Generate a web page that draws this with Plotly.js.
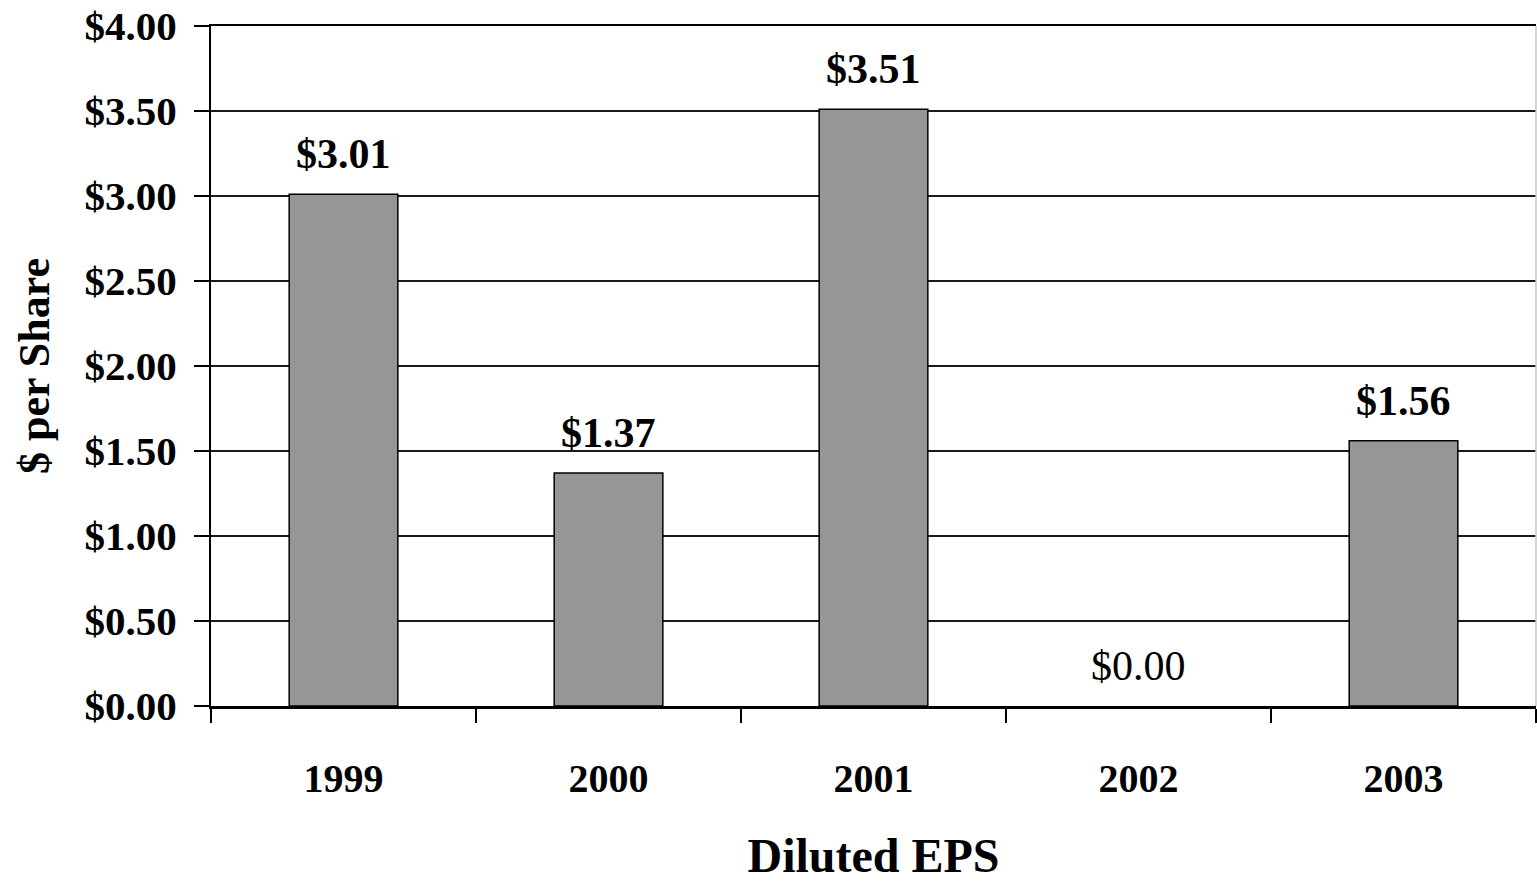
<!DOCTYPE html>
<html>
<head>
<meta charset="utf-8">
<script src="https://cdn.plot.ly/plotly-3.0.1.min.js"></script>
<style>
  html, body { margin: 0; padding: 0; background: #fff; }
  #chart { width: 1537px; height: 882px; }
</style>
</head>
<body>
<div id="chart"></div>
<script>
// Diluted earnings per share by fiscal year
const years = ['1999', '2000', '2001', '2002', '2003'];
const eps = [3.01, 1.37, 3.51, 0.00, 1.56];
const yTickVals = [0, 0.5, 1, 1.5, 2, 2.5, 3, 3.5, 4];
const yTickText = ['$0.00', '$0.50', '$1.00', '$1.50', '$2.00', '$2.50', '$3.00', '$3.50', '$4.00'];

const serif = '"Liberation Serif", "Times New Roman", serif';

const money = v => '$' + v.toFixed(2);

const trace = {
  type: 'bar',
  x: years,
  y: eps,
  width: 0.41,
  marker: {
    color: '#969696',
    // no outline on an empty (zero-height) bar
    line: { color: '#000000', width: eps.map(v => (v === 0 ? 0 : 1.5)) }
  },
  hoverinfo: 'x+y'
};

// value labels above each bar (category position = index on the category axis)
const annotations = years.map((yr, i) => ({
  x: i,
  y: eps[i],
  xref: 'x',
  yref: 'y',
  text: money(eps[i]),
  showarrow: false,
  yanchor: 'bottom',
  yshift: 15,
  font: {
    family: serif,
    size: 42,
    color: '#000',
    weight: eps[i] === 0 ? 'normal' : 'bold'
  }
}));

const layout = {
  width: 1537,
  height: 882,
  margin: { l: 211, r: 1, t: 26, b: 176 },
  paper_bgcolor: '#ffffff',
  plot_bgcolor: '#ffffff',
  showlegend: false,
  font: { family: serif, color: '#000' },
  xaxis: {
    type: 'category',
    range: [-0.5, years.length - 0.5],
    showline: true,
    linecolor: '#000',
    linewidth: 2.5,
    mirror: true,
    ticks: 'outside',
    tickson: 'boundaries',
    ticklen: 14,
    tickwidth: 2,
    tickcolor: '#000',
    showgrid: false,
    tickangle: 0,
    ticklabelstandoff: 35,
    tickfont: { family: serif, size: 40, weight: 'bold', color: '#000' },
    title: {
      text: 'Diluted EPS',
      standoff: 48,
      font: { family: serif, size: 48, weight: 'bold', color: '#000' }
    }
  },
  yaxis: {
    range: [0, 4],
    tickmode: 'array',
    tickvals: yTickVals,
    ticktext: yTickText,
    showline: true,
    linecolor: '#000',
    linewidth: 2,
    ticks: 'outside',
    ticklen: 15,
    tickwidth: 2,
    tickcolor: '#000',
    showgrid: true,
    gridcolor: '#1a1a1a',
    gridwidth: 2,
    zeroline: false,
    ticklabelstandoff: 9,
    tickfont: { family: serif, size: 41, weight: 'bold', color: '#000' },
    title: {
      text: '$ per Share',
      standoff: 21,
      font: { family: serif, size: 44, weight: 'bold', color: '#000' }
    }
  },
  shapes: [{
    type: 'line',
    xref: 'paper', yref: 'paper',
    x0: 1, x1: 1, y0: 0, y1: 1,
    line: { color: '#c8c8c8', width: 1.5 }
  }],
  annotations: annotations
};

Plotly.newPlot('chart', [trace], layout, { displayModeBar: false, staticPlot: true });
</script>
</body>
</html>
